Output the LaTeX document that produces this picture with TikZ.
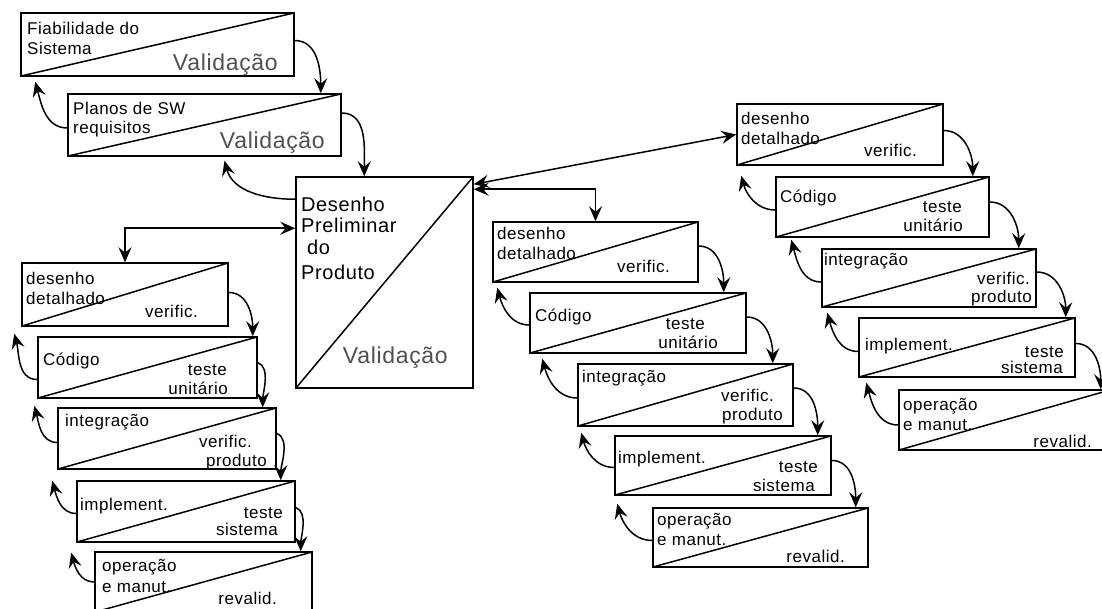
\documentclass[tikz,border=0pt]{standalone}
\usepackage{fontspec}
\usetikzlibrary{arrows.meta}
\newfontfamily\lblfont[LetterSpace=3]{Liberation Sans}
\definecolor{valgray}{RGB}{80,80,80}
\begin{document}
\begin{tikzpicture}[x=1pt,y=-1pt,
  stage/.style={draw, line width=1.5pt, inner sep=0pt,
    path picture={\draw[line width=1.5pt] (path picture bounding box.south west) -- (path picture bounding box.north east);}},
  link/.style={line width=1.5pt, arrows={-Stealth[length=15pt,width=13pt,inset=5.5pt]}},
  fwd/.style={link,out=0,in=90},
  steep/.style={link,out=-20,in=90,looseness=0.8},
  back/.style={link,out=180,in=-75},
  both/.style={line width=1.5pt, arrows={Stealth[length=15pt,width=13pt,inset=5.5pt]-Stealth[length=15pt,width=13pt,inset=5.5pt]}},
  lw/.style={font=\lblfont\fontsize{17}{20}\selectfont, inner sep=0pt, anchor=base west},
  le/.style={lw, anchor=base east},
  big/.style={font=\lblfont\fontsize{20}{22}\selectfont, inner sep=0pt, anchor=base west},
  val/.style={font=\lblfont\fontsize{23}{26}\selectfont, text=valgray, inner sep=0pt, anchor=base east}]

\fill[white] (0,0) rectangle (1102,609);
\useasboundingbox (0,0) rectangle (1102,609);

% ---- requirement and preliminary design stages
\node[stage, minimum width=273pt, minimum height=63pt] (A) at (157.5,44.5) {};
\node[stage, minimum width=273pt, minimum height=62pt] (B) at (204.5,125) {};
\node[stage, minimum width=177pt, minimum height=211pt] (DP) at (384.5,282.5) {};

% ---- left cascade
\node[stage, minimum width=206pt, minimum height=63pt] (L1) at (125,294.5) {};
\node[stage, minimum width=219pt, minimum height=61pt] (L2) at (147.5,367.5) {};
\node[stage, minimum width=218pt, minimum height=61pt] (L3) at (167,438.5) {};
\node[stage, minimum width=218pt, minimum height=61pt] (L4) at (186,511.5) {};
\node[stage, minimum width=217pt, minimum height=60pt] (L5) at (203.5,582) {};

% ---- middle cascade
\node[stage, minimum width=205pt, minimum height=60pt] (M1) at (595.5,252) {};
\node[stage, minimum width=216pt, minimum height=60pt] (M2) at (638,323) {};
\node[stage, minimum width=215pt, minimum height=62pt] (M3) at (685.5,395) {};
\node[stage, minimum width=216pt, minimum height=59pt] (M4) at (723,465.5) {};
\node[stage, minimum width=215pt, minimum height=59pt] (M5) at (760.5,537.5) {};

% ---- right cascade
\node[stage, minimum width=206pt, minimum height=61pt] (R1) at (840,134.5) {};
\node[stage, minimum width=213pt, minimum height=60pt] (R2) at (882.5,207) {};
\node[stage, minimum width=214pt, minimum height=58pt] (R3) at (929,278) {};
\node[stage, minimum width=216pt, minimum height=59pt] (R4) at (967,347.5) {};
\node[stage, minimum width=211pt, minimum height=60pt] (R5) at (1004.5,420) {};

% ---- texts
\node[lw] (A1) at (27,35) {Fiabilidade do};
\node[lw] (A2) at (27,55) {Sistema};
\node[val] (A3) at (278,71) {Validação};
\node[lw] (B1) at (73,115) {Planos de SW};
\node[lw] (B2) at (73,134) {requisitos};
\node[val] (B3) at (325,149) {Validação};
\node[big] (D1) at (301,212) {Desenho};
\node[big] (D2) at (301,233) {Preliminar};
\node[big] (D3) at (307,255) {do};
\node[big] (D4) at (301,280) {Produto};
\node[val] (D5) at (448,363) {Validação};

\foreach \n/\x/\y/\t in {L1a/26/285/desenho, L1b/26/305/detalhado,
    L2a/43/365/Código, L3a/65/426/integração, L4a/80/510/implement.,
    L5a/102/571/operação, L5b/102/592/e manut.,
    M1a/497/240/desenho, M1b/497/260/detalhado,
    M2a/535/322/Código, M3a/582/382/integração, M4a/618/463/implement.,
    M5a/657/525/operação, M5b/657/545/e manut.,
    R1a/741/125/desenho, R1b/741/145/detalhado,
    R2a/780/203/Código, R3a/824/266/integração, R4a/865/350/implement.,
    R5a/903/410/operação, R5b/903/430/e manut.}
  \node[lw] (\n) at (\x,\y) {\t};

\foreach \n/\x/\y/\t in {L1c/198/317/verific.,
    L2b/227/375/teste, L2c/228/394/unitário,
    L3b/252/447/verific., L3c/267/466/produto,
    L4b/283/518/teste, L4c/278/535/sistema,
    L5c/277/604/revalid.,
    M1c/670/273/verific.,
    M2b/705/330/teste, M2c/718/348/unitário,
    M3b/774/401/verific., M3c/783/420/produto,
    M4b/818/472/teste, M4c/815/491/sistema,
    M5c/845/562/revalid.,
    R1c/917/157/verific.,
    R2b/962/213/teste, R2c/963/232/unitário,
    R3b/1030/285/verific., R3c/1032/303/produto,
    R4b/1064/357/teste, R4c/1063/373/sistema,
    R5c/1092/447/revalid.}
  \node[le] (\n) at (\x,\y) {\t};

% ---- forward flow
\draw[fwd] ([yshift=4pt]A.east) to ([xshift=-21pt]B.north east);
\draw[fwd] ([yshift=12pt]B.east) to ([xshift=69pt]DP.north west);
\draw[fwd] ([yshift=2pt]L1.east) to ([xshift=-5pt]L2.north east);
\draw[steep] ([yshift=5pt]L2.east) to ([xshift=-14pt]L3.north east);
\draw[steep] ([yshift=5pt]L3.east) to ([xshift=-15pt]L4.north east);
\draw[steep] ([yshift=4pt]L4.east) to ([xshift=-12pt]L5.north east);
\draw[fwd] ([yshift=6pt]M1.east) to ([xshift=-23pt]M2.north east);
\draw[fwd] ([yshift=6pt]M2.east) to ([xshift=-21pt]M3.north east);
\draw[fwd] ([yshift=7pt]M3.east) to ([xshift=-14pt]M4.north east);
\draw[fwd] ([yshift=5pt]M4.east) to ([xshift=-13pt]M5.north east);
\draw[fwd] ([yshift=4pt]R1.east) to ([xshift=-17pt]R2.north east);
\draw[fwd] ([yshift=5pt]R2.east) to ([xshift=-18pt]R3.north east);
\draw[fwd] ([yshift=6pt]R3.east) to ([xshift=-10pt]R4.north east);
\draw[fwd] ([yshift=4pt]R4.east) to ([xshift=-10pt]R5.north east);

% ---- feedback flow
\draw[back] ([yshift=-3pt]B.west) to ([xshift=15pt,yshift=-5pt]A.south west);
\draw[back] ([yshift=-23pt]DP.north west) to ([xshift=20pt,yshift=-4pt]B.south);
\draw[back] ([yshift=-12pt]L2.west) to ([xshift=-7pt,yshift=-7pt]L1.south west);
\draw[back] ([yshift=-4pt]L3.west) to ([xshift=-3pt,yshift=-7pt]L2.south west);
\draw[back] ([yshift=-2pt]L4.west) to ([xshift=-5pt,yshift=-11pt]L3.south west);
\draw[back] (L5.west) to ([xshift=-5pt,yshift=-10pt]L4.south west);
\draw[back] ([yshift=-2pt]M2.west) to ([xshift=5pt,yshift=-5pt]M1.south west);
\draw[back] ([yshift=-3pt]M3.west) to ([xshift=13pt,yshift=-5pt]M2.south west);
\draw[back] ([yshift=-2pt]M4.west) to ([xshift=4pt,yshift=-6pt]M3.south west);
\draw[back] ([yshift=-3pt]M5.west) to ([xshift=3pt,yshift=-8pt]M4.south west);
\draw[back] ([yshift=-3pt]R2.west) to ([xshift=5pt,yshift=-10pt]R1.south west);
\draw[back] ([yshift=-4pt]R3.west) to ([xshift=16pt,yshift=-2pt]R2.south west);
\draw[back] ([yshift=-4pt]R4.west) to ([xshift=6pt,yshift=-5pt]R3.south west);
\draw[back] ([yshift=-5pt]R5.west) to ([xshift=8pt,yshift=-5pt]R4.south west);

% ---- links from the preliminary design to the three detailed designs
\draw[both] ([yshift=-8pt]DP.north east) -- (R1.west);
\draw[both] ([yshift=-13pt]DP.north east) -| (M1.north);
\draw[both] ([yshift=-52pt]DP.north west) -| (L1.north);
\end{tikzpicture}
\end{document}
